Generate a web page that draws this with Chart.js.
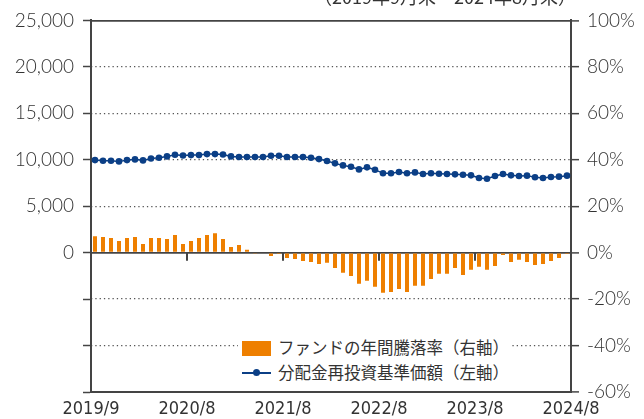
<!DOCTYPE html>
<html lang="ja">
<head>
<meta charset="utf-8">
<script src="https://cdn.jsdelivr.net/npm/chart.js@4.4.1/dist/chart.umd.min.js"></script>
<style>
  body { margin: 0; background: #fff; }
  #wrap { position: relative; width: 644px; height: 419px; overflow: hidden; }
  #period { position: absolute; right: 68px; top: -13px; font: 18px "Noto Sans CJK JP"; color: #333; line-height: 18px; white-space: nowrap; }
  #legend { position: absolute; left: 238px; top: 334px; width: 274px; height: 50px; background: #fff; font: 16.5px "Noto Sans CJK JP"; color: #333; }
  #legend .row { position: absolute; left: 4px; height: 20px; line-height: 20px; white-space: nowrap; }
  #legend .box { display: inline-block; width: 29px; height: 15px; background: #EE7F00; vertical-align: -2px; margin-right: 7px; }
  #legend .ln { display: inline-block; position: relative; width: 29px; height: 2px; background: #0B3F86; vertical-align: 5px; margin-right: 7px; }
  #legend .ln i { position: absolute; left: 11px; top: -3px; width: 7px; height: 7px; border-radius: 50%; background: #0B3F86; }
</style>
</head>
<body>
<div id="wrap">
  <canvas id="myChart" width="644" height="419"></canvas>
  <div id="period">（2019年9月末～2024年8月末）</div>
  <div id="legend">
    <div class="row" style="top:3px"><span class="box"></span>ファンドの年間騰落率（右軸）</div>
    <div class="row" style="top:28px"><span class="ln"><i></i></span>分配金再投資基準価額（左軸）</div>
  </div>
</div>
<script>
// months (one per bar / point)
var months = ["2019/9","2019/10","2019/11","2019/12","2020/1","2020/2","2020/3","2020/4","2020/5","2020/6","2020/7","2020/8",
  "2020/9","2020/10","2020/11","2020/12","2021/1","2021/2","2021/3","2021/4","2021/5","2021/6","2021/7","2021/8",
  "2021/9","2021/10","2021/11","2021/12","2022/1","2022/2","2022/3","2022/4","2022/5","2022/6","2022/7","2022/8",
  "2022/9","2022/10","2022/11","2022/12","2023/1","2023/2","2023/3","2023/4","2023/5","2023/6","2023/7","2023/8",
  "2023/9","2023/10","2023/11","2023/12","2024/1","2024/2","2024/3","2024/4","2024/5","2024/6","2024/7","2024/8"];

// 分配金再投資基準価額 (yen, left axis)
var navValues = [9960, 9890, 9890, 9820, 9960, 10040, 9930, 10140, 10210, 10360, 10540, 10460,
  10500, 10500, 10610, 10610, 10570, 10360, 10290, 10290, 10290, 10290, 10430, 10430,
  10290, 10290, 10290, 10210, 10070, 9860, 9610, 9390, 9250, 8960, 9180, 8930,
  8540, 8540, 8680, 8540, 8640, 8460, 8540, 8500, 8460, 8430, 8390, 8320,
  8040, 7960, 8250, 8460, 8320, 8250, 8290, 8110, 8040, 8140, 8180, 8290];

// ファンドの年間騰落率 (%, right axis)
var returnValues = [7.1, 6.7, 6.3, 5.0, 6.3, 6.7, 3.7, 6.3, 6.3, 5.9, 7.6, 3.7,
  5.0, 6.3, 7.6, 8.4, 5.9, 2.4, 3.3, 1.3, -0.3, -0.4, -1.4, -0.2,
  -2.3, -2.7, -3.6, -4.0, -4.9, -4.4, -6.6, -8.7, -10.0, -13.4, -12.1, -14.7,
  -17.3, -16.9, -15.6, -16.9, -14.3, -14.3, -11.3, -9.1, -9.1, -6.6, -9.6, -7.4,
  -6.1, -7.4, -5.7, -1.0, -4.0, -3.1, -4.0, -5.3, -4.9, -3.6, -2.3, -0.2];

var xTickLabels = ["2019/9", "2020/8", "2021/8", "2022/8", "2023/8", "2024/8"];

var axisColor = '#444';
var textColor = '#333';

var navPoints = navValues.map(function (v, i) { return { x: i + 0.5, y: v }; });
var returnPoints = returnValues.map(function (v, i) { return { x: i + 0.5, y: v }; });

// small tick marks of the category axis, drawn where it crosses at 0%
var zeroTicks = {
  id: 'zeroTicks',
  afterDatasetsDraw: function (chart) {
    var ctx = chart.ctx, x = chart.scales.x, yR = chart.scales.yR;
    var y0 = yR.getPixelForValue(0);
    ctx.save();
    ctx.strokeStyle = axisColor;
    ctx.lineWidth = 2;
    for (var v = 12; v < 60; v += 12) {
      var px = Math.round(x.getPixelForValue(v));
      ctx.beginPath();
      ctx.moveTo(px, y0);
      ctx.lineTo(px, y0 + 8);
      ctx.stroke();
    }
    ctx.restore();
  }
};

var ctxC = document.getElementById("myChart").getContext('2d');
var myChart = new Chart(ctxC, {
  type: 'bar',
  data: {
    datasets: [
      {
        type: 'line',
        label: '分配金再投資基準価額（左軸）',
        data: navPoints,
        yAxisID: 'y',
        borderColor: '#0B3F86',
        backgroundColor: '#0B3F86',
        borderWidth: 1.5,
        pointRadius: 3.3,
        pointBorderWidth: 0,
        tension: 0,
        order: 0
      },
      {
        type: 'bar',
        label: 'ファンドの年間騰落率（右軸）',
        data: returnPoints,
        yAxisID: 'yR',
        backgroundColor: '#EE7F00',
        barPercentage: 0.5,
        categoryPercentage: 1.0,
        order: 1
      }
    ]
  },
  options: {
    responsive: false,
    animation: false,
    layout: { padding: { top: 19.5, left: 0, right: 0, bottom: 0 } },
    plugins: { legend: { display: false }, tooltip: { enabled: false } },
    scales: {
      x: {
        type: 'linear',
        min: 0,
        max: 60,
        offset: false,
        afterFit: function (s) { s.height = 27; },
        ticks: {
          stepSize: 12,
          autoSkip: false,
          maxRotation: 0,
          padding: 7,
          color: textColor,
          font: { family: "'Liberation Sans Narrow', 'DejaVu Sans Condensed', sans-serif", size: 18 },
          callback: function (v) { return xTickLabels[v / 12]; }
        },
        grid: { offset: false, drawOnChartArea: false, drawTicks: false },
        border: { color: axisColor, width: 2 }
      },
      y: {
        position: 'left',
        min: -15000,
        max: 25000,
        afterFit: function (s) { s.width = 91; },
        ticks: {
          stepSize: 5000,
          padding: 9,
          color: textColor,
          font: { family: 'Lato', weight: 300, size: 19 },
          callback: function (v) { return v < 0 ? '' : v.toLocaleString('en-US'); }
        },
        grid: { drawOnChartArea: false, tickLength: 8, tickColor: axisColor, tickWidth: 1.5 },
        border: { color: axisColor, width: 2 }
      },
      yR: {
        position: 'right',
        min: -60,
        max: 100,
        afterFit: function (s) { s.width = 73; },
        ticks: {
          stepSize: 20,
          padding: 8,
          color: textColor,
          font: { family: 'Lato', weight: 300, size: 19 },
          callback: function (v) { return v + '%'; }
        },
        grid: {
          tickLength: 8,
          tickColor: axisColor,
          tickWidth: 1.5,
          color: function (c) { var v = c.tick.value; return (v === 0 || v === 100 || v === -60) ? axisColor : '#555'; },
          lineWidth: function (c) { var v = c.tick.value; return (v === 0 || v === 100 || v === -60) ? 1.8 : 1.3; }
        },
        border: {
          color: axisColor,
          width: 2,
          dash: function (c) { var v = c.tick.value; return (v === 0 || v === 100 || v === -60) ? [] : [1.3, 3]; }
        }
      }
    }
  },
  plugins: [zeroTicks]
});
</script>
</body>
</html>
